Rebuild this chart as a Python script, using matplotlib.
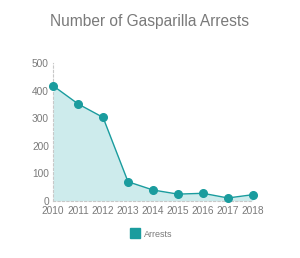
import matplotlib
matplotlib.use('Agg')
import matplotlib.pyplot as plt
from matplotlib.lines import Line2D

years = [2010, 2011, 2012, 2013, 2014, 2015, 2016, 2017, 2018]
arrests = [418, 352, 303, 69, 39, 24, 27, 10, 22]

teal = '#1a9c9e'
fill = '#cdebec'
grey = '#7a7a7a'

plt.rcParams['font.family'] = ['Liberation Sans', 'DejaVu Sans']

fig = plt.figure(figsize=(3.0, 2.58), dpi=100)
ax = fig.add_axes([0.177, 0.222, 0.666, 0.533])

ax.fill_between(years, arrests, 0, color=fill, linewidth=0)
ax.plot(years, arrests, color=teal, linewidth=1, marker='o', markersize=5.5,
        clip_on=False, zorder=3)

ax.set_xlim(2010, 2018)
ax.set_ylim(0, 500)
ax.set_xticks(years)
ax.set_yticks([0, 100, 200, 300, 400, 500])

for s in ['top', 'right']:
    ax.spines[s].set_visible(False)
for s in ['left', 'bottom']:
    ax.spines[s].set_color('#c8c8c8')
    ax.spines[s].set_linestyle((0, (2, 2)))
    ax.spines[s].set_linewidth(0.8)

ax.tick_params(length=0, labelsize=7.3, colors=grey)
ax.tick_params(axis='x', pad=4)
ax.tick_params(axis='y', pad=3)

fig.text(0.5, 0.918, 'Number of Gasparilla Arrests', ha='center', va='center',
         fontsize=11.2, color=grey)

handle = Line2D([], [], linestyle='none', marker='s', markersize=6.5, color=teal)
fig.legend([handle], ['Arrests'], loc='center', bbox_to_anchor=(0.505, 0.093),
           frameon=False, fontsize=6.5, labelcolor=grey, handletextpad=0.5,
           handlelength=1)

fig.savefig('out.png', dpi=100)
